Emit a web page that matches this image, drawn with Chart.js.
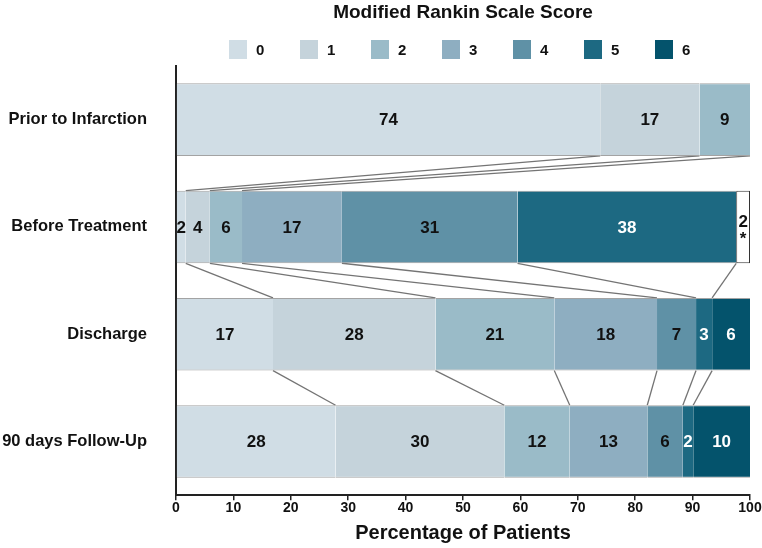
<!DOCTYPE html>
<html>
<head>
<meta charset="utf-8">
<script src="https://cdn.jsdelivr.net/npm/chart.js@4/dist/chart.umd.min.js"></script>
<style>
    body { margin: 0; background: #fff; font-family: "Liberation Sans", Arial, sans-serif; }
    #contenedor { position: relative; width: 762px; height: 548px; }
    #myChart { position: absolute; left: 0; top: 0; }
    #titulo { position: absolute; left: 176px; width: 574px; top: 0px; height: 24px; line-height: 24px;
              text-align: center; font-weight: bold; font-size: 19px; color: #111; }
    #leyenda { position: absolute; left: 229px; top: 40px; display: flex; }
    .item { display: flex; align-items: center; width: 71px; }
    .item:last-child { width: auto; }
    .caja { width: 18px; height: 19px; margin-right: 9px; }
    .texto { font-weight: bold; font-size: 15px; line-height: 19px; color: #111; }
</style>
</head>
<body>
<div id="contenedor">
    <canvas id="myChart" width="762" height="548"></canvas>
    <div id="titulo">Modified Rankin Scale Score</div>
    <div id="leyenda"></div>
</div>
<script>
//categorias del eje y
const categorias = ['Prior to Infarction', 'Before Treatment', 'Discharge', '90 days Follow-Up'];
//puntajes de la escala (leyenda)
const puntajes = ['0', '1', '2', '3', '4', '5', '6'];
//porcentaje de pacientes por puntaje 0..6 en cada momento
const priorInfarction = [73.9, 17.3, 8.8, 0, 0, 0, 0];
const beforeTreatment = [1.7, 4.2, 5.6, 17.4, 30.6, 38.1, 0];
const discharge = [16.9, 28.3, 20.7, 17.9, 6.8, 2.8, 6.6];
const followUp = [27.8, 29.4, 11.4, 13.5, 6.2, 1.8, 9.9];
//pacientes sin dato (segmento blanco con asterisco)
const sinDato = [0, 2.4, 0, 0];
//numeros impresos dentro de las barras
const priorEtiquetas = ['74', '17', '9', '', '', '', ''];
const beforeEtiquetas = ['2', '4', '6', '17', '31', '38', ''];
const dischargeEtiquetas = ['17', '28', '21', '18', '7', '3', '6'];
const followEtiquetas = ['28', '30', '12', '13', '6', '2', '10'];
const sinDatoEtiquetas = ['', '2\n*', '', ''];
//eje x
const xMin = 0;
const xMax = 100;
const xPaso = 10;

const colores = ['#d0dde5', '#c5d3db', '#9abbc8', '#8eaec1', '#5f91a6', '#1d6982', '#04536c'];
const filas = [priorInfarction, beforeTreatment, discharge, followUp];
const etiquetas = [priorEtiquetas, beforeEtiquetas, dischargeEtiquetas, followEtiquetas];

Chart.defaults.font.family = '"Liberation Sans", Arial, sans-serif';
Chart.defaults.color = '#111';

//leyenda en html
let leyenda = document.getElementById('leyenda');
puntajes.forEach((p, i) => {
    leyenda.innerHTML += `<div class="item"><span class="caja" style="background:${colores[i]}"></span><span class="texto">${p}</span></div>`;
});

//un dataset por puntaje
let datasets = puntajes.map((p, s) => ({
    label: p,
    data: filas.map(fila => fila[s]),
    backgroundColor: colores[s],
    borderColor: '#a3a3a3',
    borderWidth: { top: 1, bottom: 1, left: 0, right: 0 },
    barPercentage: 0.677,
    categoryPercentage: 1
}));
datasets.push({
    label: 'sin dato',
    data: sinDato,
    backgroundColor: '#ffffff',
    borderColor: '#333333',
    borderWidth: 1,
    borderSkipped: false,
    barPercentage: 0.677,
    categoryPercentage: 1
});

//lineas que unen los limites acumulados entre barras
const conectores = {
    id: 'conectores',
    beforeDatasetsDraw(chart) {
        const ctx = chart.ctx;
        const x = chart.scales.x;
        const barras = chart.getDatasetMeta(0).data;
        ctx.save();
        ctx.strokeStyle = '#747474';
        ctx.lineWidth = 1.3;
        for (let r = 0; r < filas.length - 1; r++) {
            const yArriba = barras[r].y + barras[r].height / 2;
            const yAbajo = barras[r + 1].y - barras[r + 1].height / 2;
            let acum1 = 0;
            let acum2 = 0;
            for (let k = 0; k < 6; k++) {
                acum1 += filas[r][k];
                acum2 += filas[r + 1][k];
                if (filas[r][k] > 0) {
                    ctx.beginPath();
                    ctx.moveTo(x.getPixelForValue(acum1), yArriba);
                    ctx.lineTo(x.getPixelForValue(acum2), yAbajo);
                    ctx.stroke();
                }
            }
        }
        ctx.restore();
    }
};

//numeros dentro de cada segmento
const numeros = {
    id: 'numeros',
    afterDatasetsDraw(chart) {
        const ctx = chart.ctx;
        ctx.save();
        ctx.font = 'bold 17px "Liberation Sans", Arial, sans-serif';
        ctx.textAlign = 'center';
        ctx.textBaseline = 'middle';
        chart.data.datasets.forEach((ds, d) => {
            chart.getDatasetMeta(d).data.forEach((bar, i) => {
                const texto = d < 7 ? etiquetas[i][d] : sinDatoEtiquetas[i];
                if (!texto) return;
                const cx = (bar.x + bar.base) / 2;
                ctx.fillStyle = d == 5 || d == 6 ? '#ffffff' : '#111111';
                const lineas = texto.split('\n');
                if (lineas.length == 1) {
                    ctx.fillText(texto, cx, bar.y + 1);
                } else {
                    ctx.fillText(lineas[0], cx, bar.y - 5);
                    ctx.fillText(lineas[1], cx, bar.y + 12);
                }
            });
        });
        ctx.restore();
    }
};

var ctx = document.getElementById('myChart');
var myChart = new Chart(ctx, {
    type: 'bar',
    data: {
        labels: categorias,
        datasets: datasets
    },
    options: {
        responsive: false,
        animation: false,
        indexAxis: 'y',
        layout: { padding: { top: 66, right: 12, bottom: 0, left: 0 } },
        scales: {
            x: {
                stacked: true,
                min: xMin,
                max: xMax,
                ticks: { stepSize: xPaso, padding: 0, color: '#111', font: { size: 14, weight: 'bold' } },
                grid: { drawOnChartArea: false, drawTicks: true, tickLength: 5, color: '#222', lineWidth: 1.5 },
                border: { color: '#222', width: 2 },
                title: {
                    display: true,
                    text: 'Percentage of Patients',
                    color: '#111',
                    font: { size: 20, weight: 'bold' },
                    padding: { top: 4, bottom: 3 }
                }
            },
            y: {
                stacked: true,
                afterFit: (escala) => { escala.width = 176; },
                ticks: { padding: 29, color: '#111', font: { size: 16.5, weight: 'bold' } },
                grid: { display: false, drawTicks: false },
                border: { color: '#222', width: 2 }
            }
        },
        plugins: {
            legend: { display: false },
            title: { display: false },
            tooltip: { enabled: false }
        }
    },
    plugins: [conectores, numeros]
});
</script>
</body>
</html>
